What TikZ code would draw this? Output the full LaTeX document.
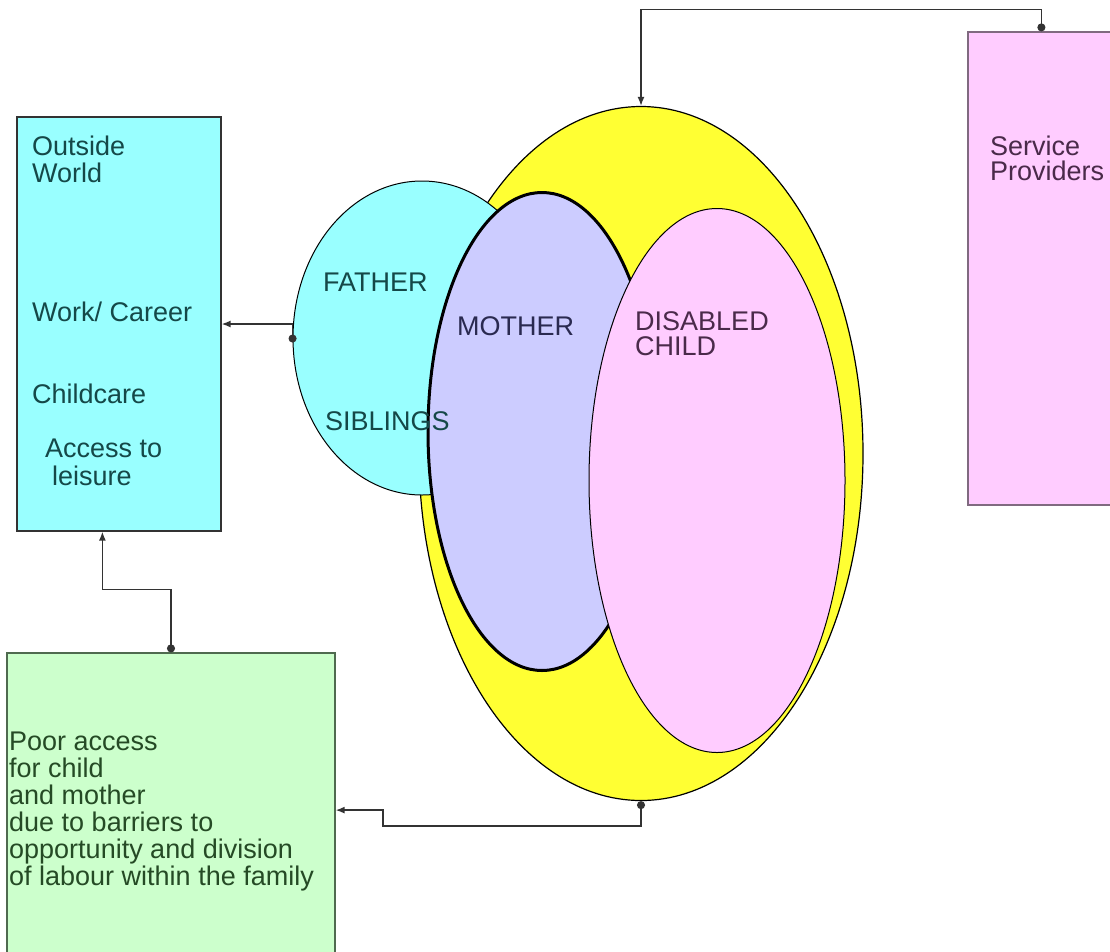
\documentclass[tikz,border=0pt]{standalone}
\usepackage{fontspec}
\setmainfont{Liberation Sans}
\usetikzlibrary{arrows.meta,shapes.geometric,calc}
\definecolor{cyanfill}{HTML}{99FFFF}
\definecolor{yellowfill}{HTML}{FFFF33}
\definecolor{lavfill}{HTML}{CCCCFF}
\definecolor{pinkfill}{HTML}{FFCCFF}
\definecolor{greenfill}{HTML}{CCFFCC}
\definecolor{linegray}{HTML}{333333}
\definecolor{pinkborder}{HTML}{806A80}
\definecolor{greenborder}{HTML}{4F6A4F}
\definecolor{tcyan}{HTML}{154848}
\definecolor{tlav}{HTML}{2A2A50}
\definecolor{tpink}{HTML}{4A2A4A}
\definecolor{tgreen}{HTML}{254A25}
\begin{document}
\begin{tikzpicture}[x=1pt,y=-1pt,
  lbl/.style={font=\fontsize{27}{26}\selectfont, inner sep=0, anchor=base west},
  boxshape/.style={rectangle, inner sep=0, line width=1.2pt},
  ell/.style={ellipse, inner sep=0, draw=black, line width=1pt},
  conn/.style={draw=linegray, line width=1.5pt, {Circle[length=8pt,width=8pt]}-{Latex[length=9pt,width=7pt]}}
]
\path[use as bounding box] (0,0) rectangle (1110,951);
\clip (0,0) rectangle (1110,951);
\fill[white] (0,0) rectangle (1110,951);

% boxes
\node[boxshape, fill=cyanfill, draw=black!80, minimum width=204pt, minimum height=414pt] (outside) at (119,324) {};
\node[boxshape, fill=pinkfill, draw=pinkborder, minimum width=200pt, minimum height=473pt] (sp) at (1068,268.5) {};
\node[boxshape, fill=greenfill, draw=greenborder, minimum width=328pt, minimum height=360pt] (gb) at (171,833) {};

% ellipses
\node[ell, fill=yellowfill, line width=1.2pt, minimum width=444pt, minimum height=694pt] (yellow) at (641,453.5) {};
\node[ell, fill=cyanfill, minimum width=258pt, minimum height=314pt] (fs) at (422,338) {};
\node[ell, fill=lavfill, line width=3pt, minimum width=228pt, minimum height=478pt] (mother) at (542,431.5) {};
\node[ell, fill=pinkfill, minimum width=256pt, minimum height=544pt] (child) at (717,480.5) {};

% connectors
\draw[conn] ($(sp.north west)+(74,0)$) -- ++(0,-22) -| (yellow.north);
\draw[conn] (fs.182) |- (outside.east);
\draw[conn] (gb.north) -- ++(0,-63) -| ($(outside.south west)+(86,0)$);
\draw[conn] (yellow.south) -- ++(0,25) -- ++(-258,0) -- ++(0,-16) coordinate (k) -- (k -| gb.east);

% texts
\node[lbl, text=tcyan] (t1) at (32,155) {Outside};
\node[lbl, text=tcyan] (t2) at (32,182) {World};
\node[lbl, text=tcyan] (t3) at (32,321) {Work/ Career};
\node[lbl, text=tcyan] (t4) at (32,403) {Childcare};
\node[lbl, text=tcyan] (t5) at (45,457) {Access to};
\node[lbl, text=tcyan] (t6) at (52,485) {leisure};

\node[lbl, text=tcyan] (fa) at (323,291) {FATHER};
\node[lbl, text=tcyan] (si) at (325,430) {SIBLINGS};
\node[lbl, text=tlav] (mo) at (457,335) {MOTHER};
\node[lbl, text=tpink] (dc1) at (635,330) {DISABLED};
\node[lbl, text=tpink] (dc2) at (635,355) {CHILD};

\node[lbl, text=tpink] (s1) at (990,155) {Service};
\node[lbl, text=tpink] (s2) at (990,180) {Providers};

\node[lbl, text=tgreen] (g1) at (9,750) {Poor access};
\node[lbl, text=tgreen] (g2) at (9,777) {for child};
\node[lbl, text=tgreen] (g3) at (9,804) {and mother};
\node[lbl, text=tgreen] (g4) at (9,831) {due to barriers to};
\node[lbl, text=tgreen] (g5) at (9,858) {opportunity and division};
\node[lbl, text=tgreen] (g6) at (9,885) {of labour within the family};
\end{tikzpicture}
\end{document}
